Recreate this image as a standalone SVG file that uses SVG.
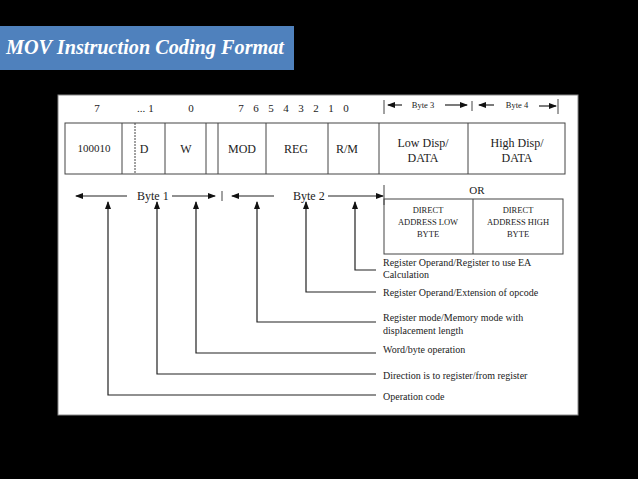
<svg xmlns="http://www.w3.org/2000/svg" width="638" height="479" viewBox="0 0 638 479">
<defs>
<marker id="ah" markerWidth="8" markerHeight="6" refX="7" refY="3" orient="auto" markerUnits="userSpaceOnUse"><path d="M0,0 L8,3 L0,6 Z" fill="#111"/></marker>
</defs>
<style>
text{font-family:"Liberation Serif","Times New Roman",serif;fill:#222}
.n{font-size:11px;text-anchor:middle}
.b{font-size:12px;text-anchor:middle}
.s{font-size:8.5px;text-anchor:middle}
.l{font-size:10px}
.bx{fill:none;stroke:#444;stroke-width:1}
.c{fill:none;stroke:#222;stroke-width:1.2}
</style>
<rect width="638" height="479" fill="#000"/>
<g id="title"><rect x="0" y="26" width="294" height="44" fill="#4f81bd"/>
<text x="6" y="54" textLength="278" lengthAdjust="spacingAndGlyphs" style="font-size:21px;font-weight:bold;font-style:italic;fill:#fff">MOV  Instruction Coding Format</text></g>
<rect x="58" y="95" width="520" height="320" fill="#fff" stroke="#888"/>
<g id="bits">
<text class="n" x="97" y="112">7</text><text class="n" x="141" y="112">...</text><text class="n" x="151" y="112">1</text><text class="n" x="191" y="112">0</text>
<text class="n" x="241" y="112">7</text><text class="n" x="256" y="112">6</text><text class="n" x="271" y="112">5</text><text class="n" x="286" y="112">4</text><text class="n" x="301" y="112">3</text><text class="n" x="316" y="112">2</text><text class="n" x="331" y="112">1</text><text class="n" x="346" y="112">0</text>
<line x1="384" y1="100" x2="384" y2="114" class="bx"/>
<line x1="402" y1="105" x2="388" y2="105" class="c" marker-end="url(#ah)"/>
<text x="423" y="108" style="font-size:8.5px;text-anchor:middle">Byte 3</text>
<line x1="445" y1="105" x2="467" y2="105" class="c" marker-end="url(#ah)"/>
<line x1="472" y1="101" x2="472" y2="111" class="bx"/>
<line x1="494" y1="105" x2="479" y2="105" class="c" marker-end="url(#ah)"/>
<text x="517" y="108" style="font-size:8.5px;text-anchor:middle">Byte 4</text>
<line x1="539" y1="106" x2="556" y2="106" class="c" marker-end="url(#ah)"/>
<line x1="558" y1="99" x2="558" y2="114" class="bx"/>
</g>
<g id="fields">
<rect x="65" y="123" width="500" height="51" class="bx"/>
<line x1="122" y1="123" x2="122" y2="174" class="bx"/>
<line x1="135" y1="123" x2="135" y2="174" class="bx" stroke-dasharray="2,1"/>
<line x1="165" y1="123" x2="165" y2="174" class="bx"/>
<line x1="206" y1="123" x2="206" y2="174" class="bx"/>
<line x1="218" y1="123" x2="218" y2="174" class="bx"/>
<line x1="266" y1="123" x2="266" y2="174" class="bx"/>
<line x1="328" y1="123" x2="328" y2="174" class="bx"/>
<line x1="379" y1="123" x2="379" y2="174" class="bx"/>
<line x1="468" y1="123" x2="468" y2="174" class="bx"/>
<text class="n" x="94" y="152">100010</text>
<text class="b" x="144" y="153">D</text><text class="b" x="186" y="153">W</text>
<text class="b" x="242" y="153">MOD</text><text class="b" x="296" y="153">REG</text><text class="b" x="347" y="153">R/M</text>
<text class="b" x="423" y="147">Low Disp/</text><text class="b" x="423" y="162">DATA</text>
<text class="b" x="517" y="147">High Disp/</text><text class="b" x="517" y="162">DATA</text>
</g>
<g id="bytes">
<line x1="127" y1="196" x2="76" y2="196" class="c" marker-end="url(#ah)"/>
<text x="137" y="200" style="font-size:12px">Byte 1</text>
<line x1="172" y1="196" x2="215" y2="196" class="c" marker-end="url(#ah)"/>
<line x1="222" y1="191" x2="222" y2="201" class="bx"/>
<line x1="274" y1="196" x2="232" y2="196" class="c" marker-end="url(#ah)"/>
<text x="293" y="200" style="font-size:12px">Byte 2</text>
<line x1="328" y1="196" x2="383" y2="196" class="c" marker-end="url(#ah)"/>
<line x1="384" y1="185" x2="384" y2="205" class="bx"/>
<text class="n" x="477" y="194">OR</text>
<rect x="384" y="199" width="179" height="55" class="bx"/>
<line x1="473" y1="199" x2="473" y2="254" class="bx"/>
<text class="s" x="428" y="213">DIRECT</text><text class="s" x="428" y="225">ADDRESS LOW</text><text class="s" x="428" y="237">BYTE</text>
<text class="s" x="518" y="213">DIRECT</text><text class="s" x="518" y="225">ADDRESS HIGH</text><text class="s" x="518" y="237">BYTE</text>
</g>
<g id="connectors">
<polyline points="376,270 355,270 355,202" class="c" marker-end="url(#ah)"/>
<polyline points="376,292 306,292 306,202" class="c" marker-end="url(#ah)"/>
<polyline points="376,322 257,322 257,202" class="c" marker-end="url(#ah)"/>
<polyline points="376,353 196,353 196,202" class="c" marker-end="url(#ah)"/>
<polyline points="376,374 157,374 157,202" class="c" marker-end="url(#ah)"/>
<polyline points="376,395 108,395 108,202" class="c" marker-end="url(#ah)"/>
</g>
<g id="labels">
<text class="l" x="383" y="266">Register Operand/Register to use EA</text>
<text class="l" x="383" y="278">Calculation</text>
<text class="l" x="383" y="296">Register Operand/Extension of opcode</text>
<text class="l" x="383" y="321">Register mode/Memory mode with</text>
<text class="l" x="383" y="334">displacement length</text>
<text class="l" x="383" y="353">Word/byte operation</text>
<text class="l" x="383" y="379">Direction is to register/from register</text>
<text class="l" x="383" y="400">Operation code</text>
</g>
</svg>
